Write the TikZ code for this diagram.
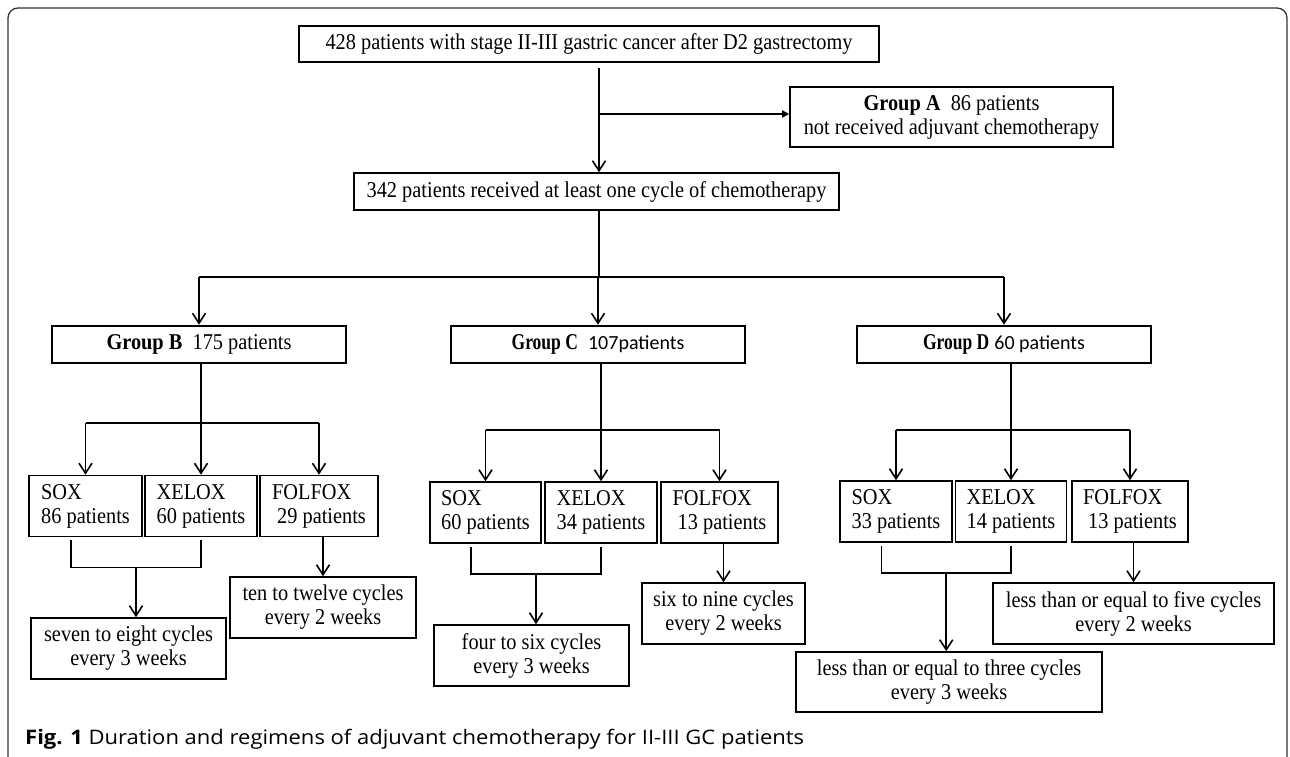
\documentclass[tikz,border=0pt]{standalone}
\usepackage{fontspec}
\setmainfont{Liberation Serif}[FakeStretch=0.9]
\newfontfamily\calib{Carlito}
\newfontfamily\capfont{Open Sans}[FakeStretch=1.1]
\usepackage{tikz}
\usetikzlibrary{calc}
\usetikzlibrary{arrows.meta}
\newcommand\boxfont{\fontsize{22.6}{24}\selectfont}
\newcommand\calibtext[1]{{\calib\fontsize{20}{24}\selectfont #1}}
\newcommand\narrowbf[1]{\scalebox{0.86}[1]{\textbf{#1}}}

\begin{document}
\begin{tikzpicture}[x=1pt, y=-1pt,
  box/.style={draw, line width=1.6pt, inner sep=0pt, align=center, font=\boxfont},
  groupbox/.style={box, line width=2.6pt, minimum width=294pt, minimum height=37pt},
  regimen/.style={box, minimum width=#1, align=left, minimum height=61pt},
  regimen/.default=112pt,
  outcome/.style={box, minimum width=#1, minimum height=61pt},
  link/.style={line width=1.6pt},
  arr/.style={link, -{Straight Barb[length=10pt, width=13pt]}},
  arrA/.style={link, -{Triangle[length=7pt, width=7pt]}}
]
  \useasboundingbox (0,0) rectangle (1290,757);
  \draw[line width=1.3pt, draw=black!80, rounded corners=10pt] (8,775) -- (8,8) -- (1287,8) -- (1287,775);

  \node[box, minimum width=580pt, minimum height=36pt] (top) at (589,44)
    {428 patients with stage II-III gastric cancer after D2 gastrectomy};
  \node[box, minimum width=323pt, minimum height=60pt] (grpA) at (951.5,117)
    {\textbf{Group A}\ \ 86 patients\\not received adjuvant chemotherapy};
  \node[box, minimum width=485pt, minimum height=37pt] (chemo) at (596.5,191.5)
    {342 patients received at least one cycle of chemotherapy};

  \node[groupbox] (grpB) at (199,344.5) {\textbf{Group B}\ \ 175 patients};
  \node[groupbox] (grpC) at (598,344.5) {\narrowbf{Group C}\ \ \calibtext{107patients}};
  \node[groupbox] (grpD) at (1004,344.5) {\narrowbf{Group D} \calibtext{60 patients}};

  % regimens
  \node[regimen=113pt] (soxB) at (85.5,506) {SOX\\86 patients};
  \node[regimen] (xelB) at (201,506) {XELOX\\60 patients};
  \node[regimen=118pt] (folB) at (319,506) {FOLFOX\\\hspace*{5pt}29 patients};
  \node[regimen=111pt] (soxC) at (485.5,512.5) {SOX\\60 patients};
  \node[regimen] (xelC) at (601,512.5) {XELOX\\34 patients};
  \node[regimen=117pt] (folC) at (719.5,512.5) {FOLFOX\\\hspace*{5pt}13 patients};
  \node[regimen] (soxD) at (896,511.5) {SOX\\33 patients};
  \node[regimen=111pt] (xelD) at (1011,511.5) {XELOX\\14 patients};
  \node[regimen=116pt] (folD) at (1130,511.5) {FOLFOX\\\hspace*{5pt}13 patients};

  % durations
  \node[outcome=195pt] (durB) at (128.5,648.5) {seven to eight cycles\\every 3 weeks};
  \node[outcome=186pt] (durFB) at (323,607.5) {ten to twelve cycles\\every 2 weeks};
  \node[outcome=195pt] (durC) at (531.5,655.5) {four to six cycles\\every 3 weeks};
  \node[outcome=163pt] (durFC) at (723.5,613.5) {six to nine cycles\\every 2 weeks};
  \node[outcome=306pt, minimum height=60pt] (durD) at (949,682) {less than or equal to three cycles\\every 3 weeks};
  \node[outcome=281pt] (durFD) at (1133.5,613.5) {less than or equal to five cycles\\every 2 weeks};

  \node[anchor=base west, inner sep=0pt, font=\capfont\fontsize{20}{22}\selectfont] (cap) at (25,744.5)
    {\textbf{Fig. 1} Duration and regimens of adjuvant chemotherapy for II-III GC patients};

  % trunk
  \coordinate (t) at (599,114);
  \coordinate (s) at (599,277);
  \draw[arr, shorten <=5pt] (t |- top.south) -- (t |- chemo.north);
  \draw[arrA] (t) -- (t -| grpA.west);
  \draw[link] (t |- chemo.south) -- (s);
  \draw[link, line width=2.2pt] (s -| grpB.north) -- (s -| grpD.north);
  \foreach \g in {grpB,grpC,grpD}
    \draw[arr] (s -| \g.north) -- (\g.north);

  \foreach \g/\y in {B/423, C/430, D/430} {
    \coordinate (fork\g) at (xel\g.north |- 0,\y);
    \draw[link] (fork\g |- grp\g.south) -- (fork\g);
    \draw[link] (fork\g -| sox\g.north) -- (fork\g -| fol\g.north);
    \foreach \r in {sox,xel,fol}
      \draw[arr] (fork\g -| \r\g.north) -- (\r\g.north);
    \draw[link] ([xshift=-14.5pt, yshift=-3pt]sox\g.south) -- ++(0,27) coordinate (j1\g)
      -- (xel\g.south |- j1\g) coordinate (j2\g) -- ([yshift=-3pt]xel\g.south);
    \coordinate (mid\g) at ($(j1\g)!.5!(j2\g)$);
    \draw[arr] (mid\g) -- (mid\g |- dur\g.north);
    \draw[arr] (durF\g.north |- fol\g.south) -- (durF\g.north);
  }
\end{tikzpicture}
\end{document}
